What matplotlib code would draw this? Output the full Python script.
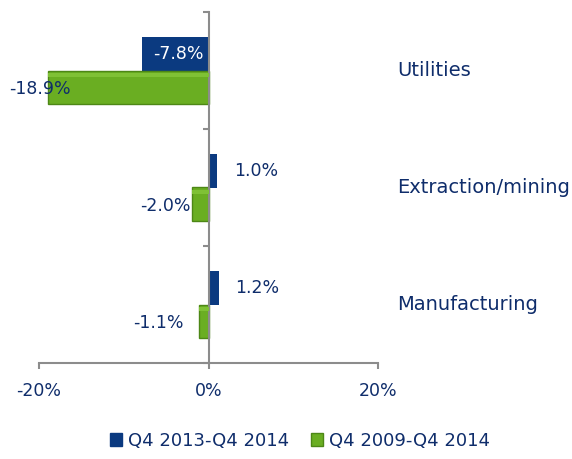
import matplotlib
matplotlib.use("Agg")
import matplotlib.pyplot as plt
import matplotlib.transforms as mtransforms
from matplotlib.patches import Patch
import numpy as np

# sectors, bottom to top
sectors = ["Manufacturing", "Extraction/mining", "Utilities"]
recent = [1.2, 1.0, -7.8]      # Q4 2013-Q4 2014, %
longer = [-1.1, -2.0, -18.9]   # Q4 2009-Q4 2014, %
series_names = ["Q4 2013-Q4 2014", "Q4 2009-Q4 2014"]
xticks = [-20, 0, 20]

navy = "#0f2d6b"
blue = "#0b3a80"
green = "#6aae22"
green_edge = "#4d8716"
axis_grey = "#8c8c8c"

plt.rcParams["font.family"] = "DejaVu Sans"

fig = plt.figure(figsize=(5.72, 4.59), dpi=100)
ax = fig.add_axes([39 / 572, 96 / 459, 339 / 572, 351 / 459])

y = np.arange(len(sectors))
h = 0.285
ax.barh(y + h / 2, recent, height=h, color=blue, zorder=2)
ax.barh(y - h / 2, longer, height=h, color=green, edgecolor=green_edge,
        linewidth=1.0, zorder=2)
# thin light strip along the top of the green bars for a bit of bevel
ax.barh(y - h / 2 + h * 0.38, longer, height=h * 0.12, color="#7fc135",
        linewidth=0, zorder=3)

ax.set_xlim(-20, 20)
ax.set_ylim(-0.5, 2.5)

# value labels
for i, v in enumerate(recent):
    if v < -5:
        ax.text(v / 2 + 0.4, y[i] + h / 2, f"{v:.1f}%", color="white",
                ha="center", va="center", fontsize=12.5, zorder=4)
    else:
        ax.annotate(f"{v:.1f}%", (v, y[i] + h / 2), xytext=(12, 0),
                    textcoords="offset points", ha="left", va="center",
                    color=navy, fontsize=12.5)
green_offsets = [-11.5, -1, 16]
for i, v in enumerate(longer):
    ax.annotate(f"{v:.1f}%", (v, y[i] - h / 2), xytext=(green_offsets[i], -1),
                textcoords="offset points", ha="right", va="center",
                color=navy, fontsize=12.5, zorder=4)

# category names on the right
trans = mtransforms.blended_transform_factory(ax.transAxes, ax.transData)
for i, s in enumerate(sectors):
    ax.text(1.056, y[i], s, transform=trans, ha="left", va="center",
            color=navy, fontsize=14)

# axes
for side in ["top", "right"]:
    ax.spines[side].set_visible(False)
ax.spines["left"].set_position(("data", 0))
ax.spines["left"].set_color(axis_grey)
ax.spines["bottom"].set_color(axis_grey)
ax.spines["left"].set_linewidth(1.5)
ax.spines["bottom"].set_linewidth(1.5)
ax.set_yticks([-0.5, 0.5, 1.5, 2.5])
ax.set_yticklabels([])
ax.tick_params(axis="y", length=4.5, width=1.5, color=axis_grey)
ax.set_xticks(xticks)
ax.set_xticklabels([f"{t}%" for t in xticks])
ax.tick_params(axis="x", length=4.5, width=1.5, color=axis_grey, pad=9,
               labelcolor=navy, labelsize=12.5)

handles = [Patch(color=blue), Patch(facecolor=green, edgecolor=green_edge)]
fig.legend(handles, series_names, loc="center", bbox_to_anchor=(0.524, 0.04),
           ncol=2, frameon=False, fontsize=13, labelcolor=navy,
           handlelength=0.7, handleheight=0.7, handletextpad=0.3,
           columnspacing=1.2)

fig.savefig("out.png", dpi=100)
